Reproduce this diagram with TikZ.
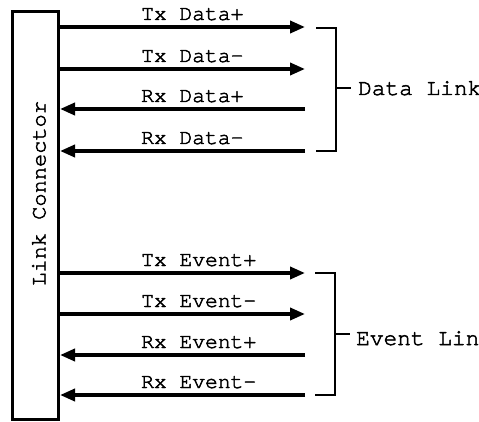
\documentclass[tikz,border=0pt]{standalone}
\usepackage{fontspec}
\usetikzlibrary{arrows.meta}
% Courier-style typewriter face, emboldened
\newfontfamily\typewriter{TeX Gyre Cursor}[FakeBold=2.2]
\tikzset{
  lbl/.style={font=\fontsize{21.3}{25}\typewriter\selectfont, inner sep=0pt, anchor=base west},
  grplbl/.style={lbl, font=\fontsize{22.8}{26}\typewriter\selectfont},
  sig/.style={line width=3.6pt, -{Triangle[length=15pt,width=12pt]}},
  brk/.style={line width=1.8pt},
  connbox/.style={draw, line width=3pt, minimum width=46pt, minimum height=407.5pt, inner sep=0pt}
}
\begin{document}
\begin{tikzpicture}[x=1pt,y=-1pt]
  \useasboundingbox (0,0) rectangle (479,422);
  % connector block
  \node[connbox] (conn) at (35.5,215.25) {};
  \node[lbl, rotate=90, font=\fontsize{22}{26}\typewriter\selectfont] (connlbl) at (45.5,286) {Link Connector};

  % signal tips on the right side
  \coordinate (td1) at (305,27);
  \coordinate (td2) at (305,69);
  \coordinate (rd1) at (305,109);
  \coordinate (rd2) at (305,151);
  \coordinate (te1) at (305,273);
  \coordinate (te2) at (305,314);
  \coordinate (re1) at (305,355);
  \coordinate (re2) at (305,395);

  % transmit lines point away from the connector, receive lines into it
  \draw[sig] (conn.east |- td1) -- (td1);
  \draw[sig] (conn.east |- td2) -- (td2);
  \draw[sig] (rd1) -- (conn.east |- rd1);
  \draw[sig] (rd2) -- (conn.east |- rd2);
  \draw[sig] (conn.east |- te1) -- (te1);
  \draw[sig] (conn.east |- te2) -- (te2);
  \draw[sig] (re1) -- (conn.east |- re1);
  \draw[sig] (re2) -- (conn.east |- re2);

  % signal names
  \node[lbl] (ltd1) at (141,20) {Tx Data+};
  \node[lbl] (ltd2) at (141,62) {Tx Data-};
  \node[lbl] (lrd1) at (141,102) {Rx Data+};
  \node[lbl] (lrd2) at (141,144) {Rx Data-};
  \node[lbl] (lte1) at (141,266) {Tx Event+};
  \node[lbl] (lte2) at (141,307) {Tx Event-};
  \node[lbl] (lre1) at (141,348) {Rx Event+};
  \node[lbl] (lre2) at (141,388) {Rx Event-};

  % group brackets
  \draw[brk] (316,28) -- (336,28) -- (336,151) -- (316,151);
  \draw[brk] (336,88) -- (351,88);
  \node[grplbl] (dlink) at (358,95) {Data Link};
  \draw[brk] (315,273) -- (335,273) -- (335,395) -- (315,395);
  \draw[brk] (335,334) -- (350,334);
  \node[grplbl] (elink) at (356,345) {Event Link};
\end{tikzpicture}
\end{document}
